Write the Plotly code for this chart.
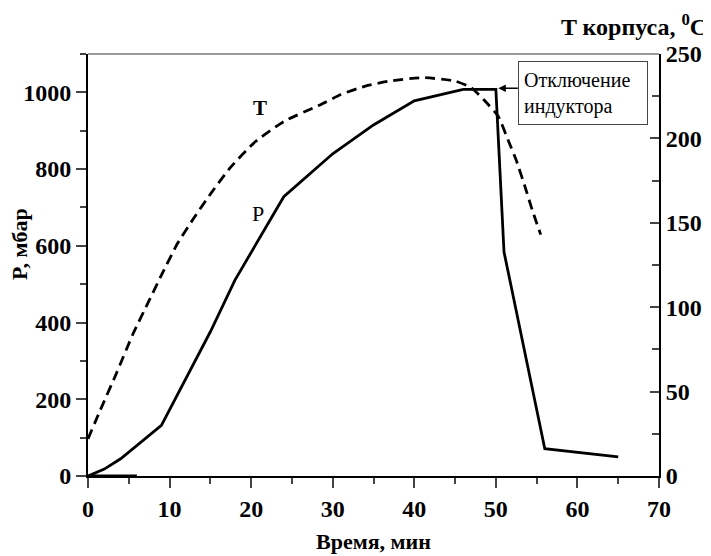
import plotly.graph_objects as go

# Pressure P (mbar) vs time (min)
time_P = [0, 2, 4, 6, 9, 15, 18, 24, 30, 35, 40, 46, 50, 51, 56, 65]
P_mbar = [0, 18, 45, 80, 132, 376, 510, 728, 840, 915, 978, 1008, 1008, 584, 71, 50]

# Flat baseline segment at P = 0
time_base = [0, 6]
P_base = [0, 0]

# Body temperature T (°C) vs time (min)
time_T = [0, 1.5, 3.5, 5.5, 7.5, 9, 11, 13, 15, 17.5, 20.5, 24, 28.5, 31, 34, 37, 41,
          45, 47, 48.5, 50.3, 51.5, 52.5, 53.6, 54.5, 55.5]
T_C = [22, 39, 61, 84, 104, 119, 138, 153, 167, 183, 198, 210, 220, 226, 231, 234, 236,
       234, 230, 223, 213, 199, 187, 171, 157, 143]

x_ticks = [0, 10, 20, 30, 40, 50, 60, 70]
y_ticks = [0, 200, 400, 600, 800, 1000]
y2_ticks = [0, 50, 100, 150, 200, 250]

FONT = "Liberation Serif"
# the page body adds an 8px margin, so the figure is 8px smaller than the window
W, H = 703, 548
L, R, T, B = 80, 52, 46, 80
PW, PH = W - L - R, H - T - B

fig = go.Figure()
fig.add_trace(go.Scatter(x=time_base, y=P_base, mode="lines",
                         line=dict(color="black", width=3), yaxis="y", hoverinfo="skip"))
fig.add_trace(go.Scatter(x=time_P, y=P_mbar, mode="lines",
                         line=dict(color="black", width=2.8), yaxis="y", name="P"))
fig.add_trace(go.Scatter(x=time_T, y=T_C, mode="lines",
                         line=dict(color="black", width=2.8, dash="10px,6px", shape="spline", smoothing=0.5),
                         yaxis="y2", name="T"))

tickfont = dict(family=FONT, size=24, color="black", weight=700)

fig.update_layout(
    width=W, height=H,
    margin=dict(l=L, r=R, t=T, b=B, autoexpand=False),
    plot_bgcolor="white", paper_bgcolor="white",
    showlegend=False,
    font=dict(family=FONT, color="black"),
    xaxis=dict(range=[0, 70], tickvals=x_ticks, ticks="outside", ticklen=10, tickwidth=2,
               showline=True, linewidth=2, linecolor="black", showgrid=False, zeroline=False,
               tickfont=tickfont,
               minor=dict(dtick=5, ticks="outside", ticklen=6, tickwidth=2, showgrid=False)),
    yaxis=dict(range=[0, 1100], tickvals=y_ticks, ticks="outside", ticklen=10, tickwidth=2,
               showline=True, linewidth=2, linecolor="black", showgrid=False, zeroline=False,
               tickfont=tickfont,
               minor=dict(dtick=100, ticks="outside", ticklen=6, tickwidth=2, showgrid=False)),
    yaxis2=dict(range=[0, 250], tickvals=y2_ticks, overlaying="y", side="right", anchor="x",
                ticks="inside", ticklen=9, tickwidth=2,
                showline=True, linewidth=2, linecolor="black", showgrid=False, zeroline=False,
                tickfont=tickfont, ticklabelstandoff=0,
                minor=dict(dtick=25, ticks="inside", ticklen=7, tickwidth=2, showgrid=False)),
)

# top frame line (thin)
fig.add_shape(type="line", xref="paper", yref="paper", x0=0, x1=1, y0=1, y1=1,
              line=dict(color="#333333", width=1))


def px_to_paper_x(px):
    return (px - L) / PW


def px_to_paper_y(py):
    return (H - B - py) / PH


annotations = [
    # axis titles
    dict(text="Время, мин", xref="paper", yref="paper", x=0.5, y=px_to_paper_y(H),
         xanchor="center", yanchor="bottom", showarrow=False,
         font=dict(family=FONT, size=22, color="black", weight=700)),
    dict(text="P, мбар", xref="paper", yref="paper", x=px_to_paper_x(12), y=0.55,
         xanchor="center", yanchor="middle", showarrow=False, textangle=-90,
         font=dict(family=FONT, size=22, color="black", weight=700)),
    dict(text="T корпуса, <sup>0</sup>C", xref="paper", yref="paper", x=px_to_paper_x(701),
         y=px_to_paper_y(17),
         xanchor="right", yanchor="middle", showarrow=False,
         font=dict(family=FONT, size=24, color="black", weight=700)),
    # curve labels
    dict(text="T", x=21.1, y=960, xref="x", yref="y", showarrow=False,
         font=dict(family=FONT, size=21, color="black", weight=700)),
    dict(text="P", x=20.9, y=684, xref="x", yref="y", showarrow=False,
         font=dict(family=FONT, size=22, color="black")),
    # box
    dict(text="Отключение<br>индуктора", xref="paper", yref="paper",
         x=px_to_paper_x(575), y=px_to_paper_y(85), xanchor="center", yanchor="middle",
         showarrow=False, align="left", width=118, height=52, borderpad=5,
         bordercolor="#444444", borderwidth=1, bgcolor="white",
         font=dict(family=FONT, size=20, color="black")),
    # arrow
    dict(text="", x=50.3, y=1011, xref="x", yref="y", ax=21, ay=0,
         showarrow=True, arrowhead=2, arrowsize=1, arrowwidth=1.5, arrowcolor="black"),
]
fig.update_layout(annotations=annotations)

fig.write_html("out.html")
